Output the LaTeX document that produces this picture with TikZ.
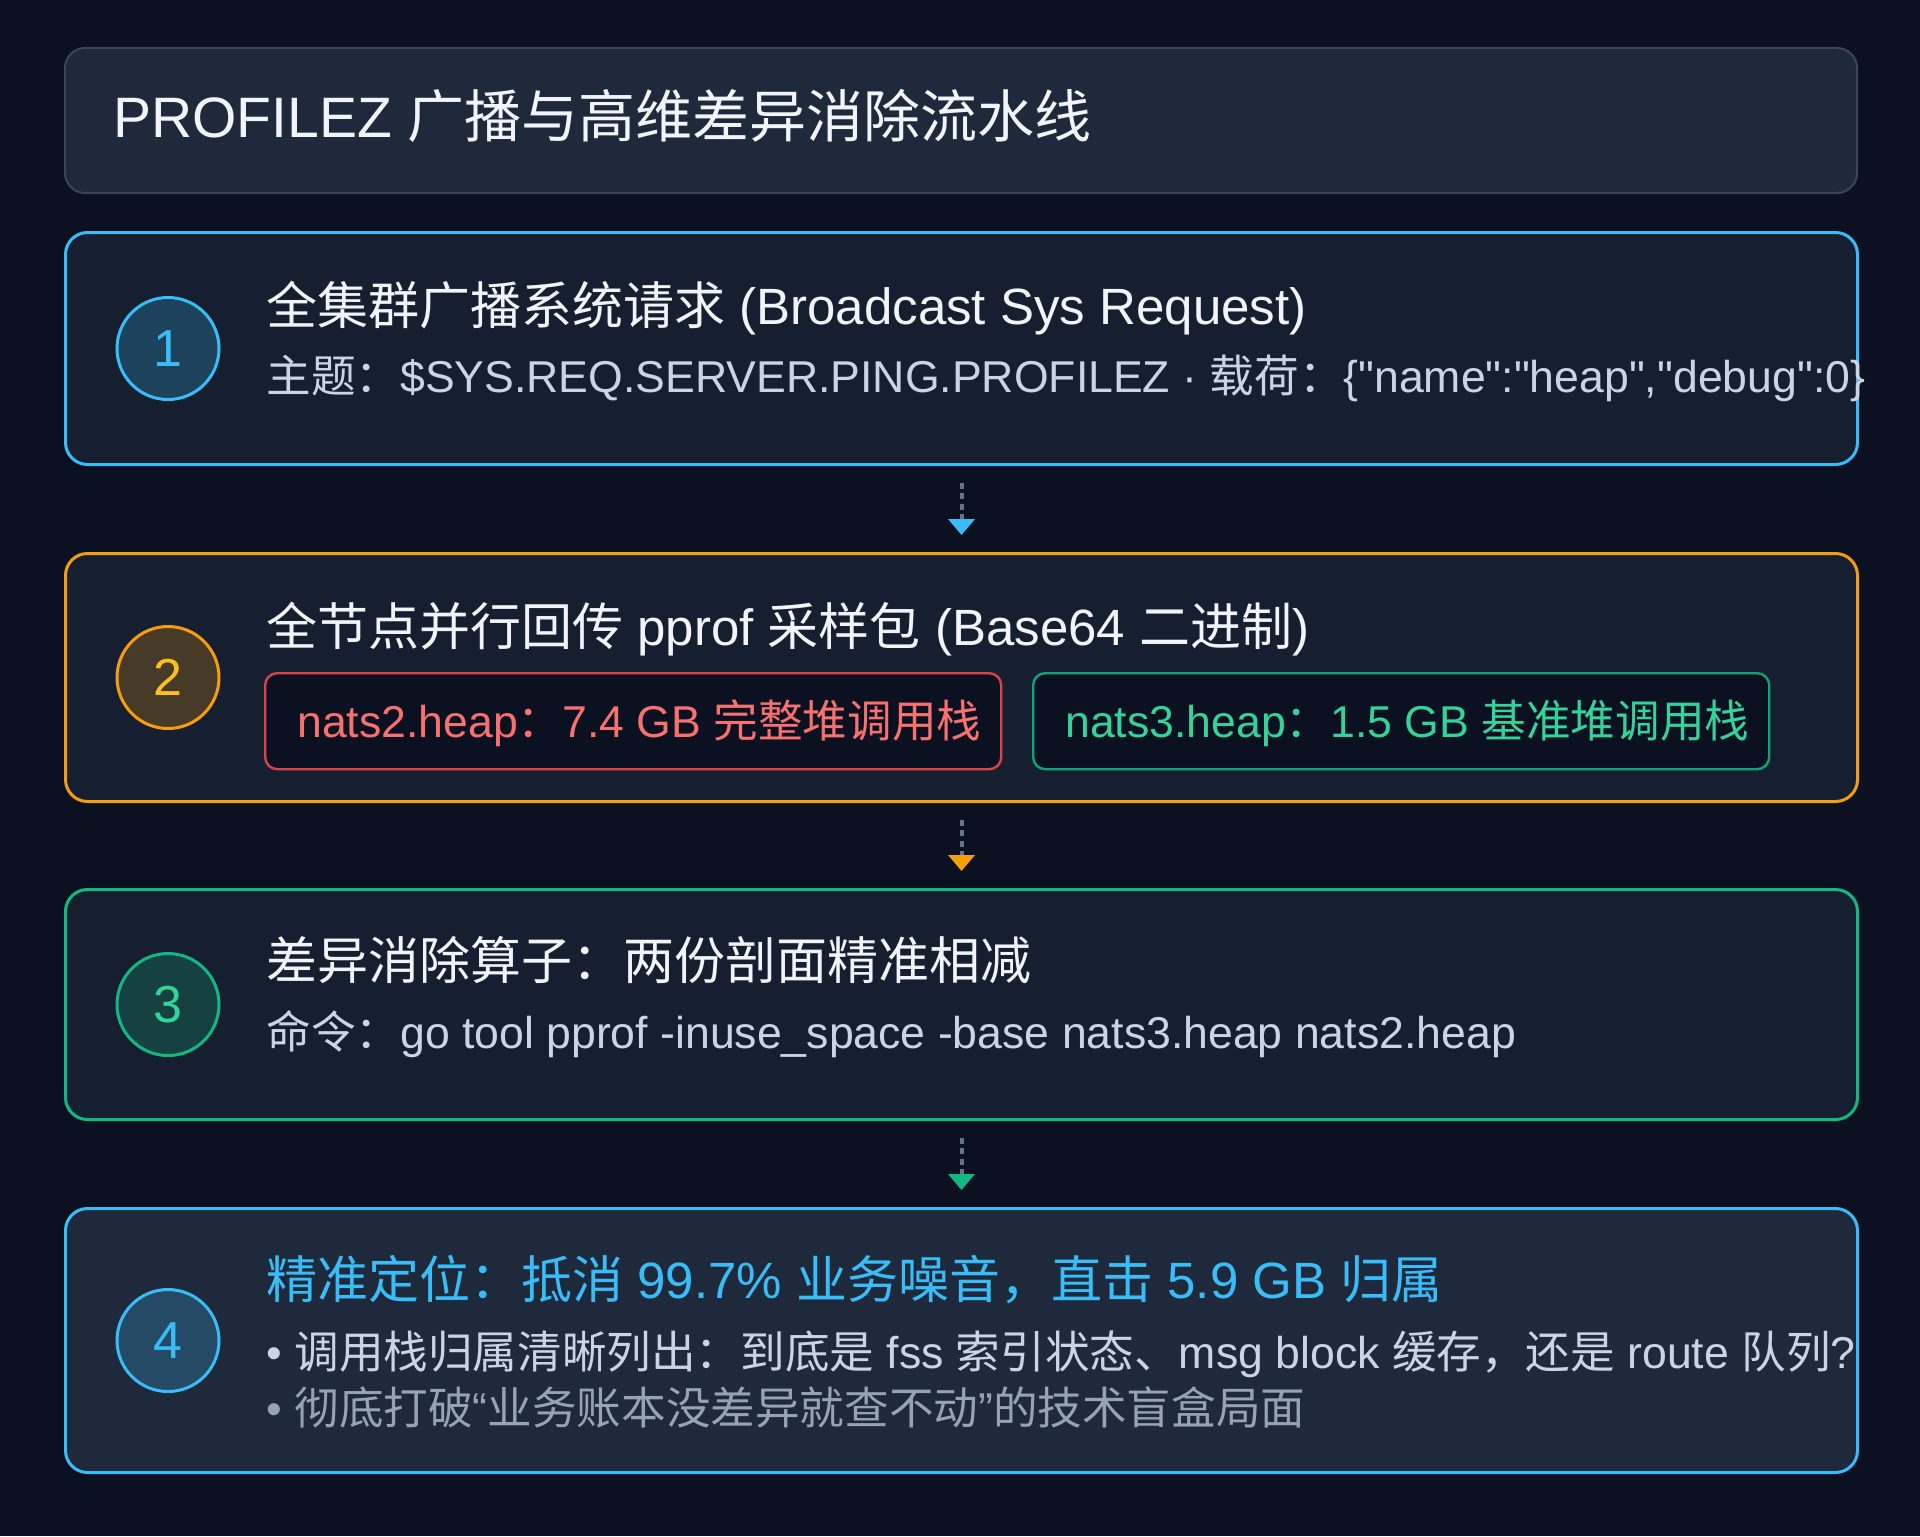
\documentclass[tikz,border=0pt]{standalone}
\usepackage{fontspec}
\setmainfont{Liberation Sans}
\newfontfamily\cjk{Noto Sans CJK SC}
\newfontfamily\lat{Liberation Sans}
\usetikzlibrary{arrows.meta}
\newcommand\zh[1]{{\cjk #1}}
\definecolor{bg}{HTML}{0B1120}
\definecolor{tfill}{HTML}{1E293B}
\definecolor{tborder}{HTML}{3A4658}
\definecolor{boxA}{HTML}{161F30}
\definecolor{boxB}{HTML}{1E293B}
\definecolor{sky}{HTML}{38BDF8}
\definecolor{amber}{HTML}{F59E0B}
\definecolor{amberT}{HTML}{FBBF24}
\definecolor{emer}{HTML}{10B981}
\definecolor{emerT}{HTML}{34D399}
\definecolor{redb}{HTML}{D9434A}
\definecolor{redt}{HTML}{F87171}
\definecolor{greenb}{HTML}{12A277}
\definecolor{chipfill}{HTML}{0B1120}
\definecolor{sub}{HTML}{CBD5E1}
\definecolor{dim}{HTML}{94A3B8}
\definecolor{stem}{HTML}{64748B}
\definecolor{wht}{HTML}{F1F5F9}
\tikzset{
  panel/.style={draw, rounded corners=11pt, line width=1.5pt, minimum width=896pt, anchor=north west, inner sep=0pt},
  badge/.style={circle, line width=1.5pt, minimum size=51pt, inner sep=0pt, font=\fontsize{26}{30}\selectfont},
  txt/.style={anchor=base west, inner sep=0pt},
  big/.style={font=\fontsize{25.5}{30}\selectfont},
  small/.style={font=\fontsize{22.3}{26}\selectfont\lat},
  chip/.style={anchor=north west, rounded corners=6pt, line width=1.2pt, fill=chipfill, inner xsep=16pt, inner ysep=0pt, minimum height=48pt, text height=19.2pt, text depth=3.1pt, font=\fontsize{22.3}{26}\selectfont},
  flow/.style={draw=stem, line width=2pt, dash pattern=on 3pt off 2.2pt}
}
\begin{document}
\begin{tikzpicture}[x=0.5pt,y=-0.5pt]
\fill[bg] (0,0) rectangle (1920,1536);
\useasboundingbox (0,0) rectangle (1920,1536);
% title
\node[panel, draw=tborder, line width=1pt, fill=tfill, rounded corners=10pt, minimum height=72.5pt] (top) at (64,47) {};
\node[txt, text=wht, font=\fontsize{28.5}{34}\selectfont] (ttl) at (113,137) {PROFILEZ \zh{广播与高维差异消除流水线}};
% panels
\node[panel, draw=sky, fill=boxA, minimum height=116pt] (b1) at (64,231) {};
\node[panel, draw=amber, fill=boxA, minimum height=124pt] (b2) at (64,552) {};
\node[panel, draw=emer, fill=boxA, minimum height=115pt] (b3) at (64,888) {};
\node[panel, draw=sky, fill=boxB, minimum height=132pt] (b4) at (64,1207) {};
% badges
\node[badge, draw=sky, fill=sky!22!boxA, text=sky] (n1) at ([xshift=52pt]b1.west) {1};
\node[badge, draw=amber, fill=amber!22!boxA, text=amberT] (n2) at ([xshift=52pt]b2.west) {2};
\node[badge, draw=emer, fill=emer!22!boxA, text=emerT] (n3) at ([xshift=52pt]b3.west) {3};
\node[badge, draw=sky, fill=sky!22!boxB, text=sky] (n4) at ([xshift=52pt]b4.west) {4};
% step 1
\node[txt, big, text=wht] (t1) at (266,324) {\zh{全集群广播系统请求} (Broadcast Sys Request)};
\node[txt, small, text=sub] (s1) at (266,392) {\zh{主题：}\$SYS.REQ.SERVER.PING.PROFILEZ · \zh{载荷：}\{"name":"heap","debug":0\}};
% step 2
\node[txt, big, text=wht] (t2) at (266,645) {\zh{全节点并行回传} pprof \zh{采样包} (Base64 \zh{二进制})};
\node[chip, draw=redb, text=redt] (c1) at (264,672) {\makebox[336pt][l]{nats2.heap\zh{：}7.4 GB \zh{完整堆调用栈}}};
\node[chip, draw=greenb, text=emerT] (c2) at (1032,672) {\makebox[336pt][l]{nats3.heap\zh{：}1.5 GB \zh{基准堆调用栈}}};
% step 3
\node[txt, big, text=wht] (t3) at (266,979) {\zh{差异消除算子：两份剖面精准相减}};
\node[txt, small, text=sub] (s3) at (266,1048) {\zh{命令：}go tool pprof -inuse\_space -base nats3.heap nats2.heap};
% step 4
\node[txt, big, text=sky] (t4) at (266,1298) {\zh{精准定位：抵消} 99.7\% \zh{业务噪音，直击} 5.9 GB \zh{归属}};
\node[txt, small, text=sub] (s4a) at (266,1368) {• \zh{调用栈归属清晰列出：到底是} fss \zh{索引状态、}msg block \zh{缓存，还是} route \zh{队列}?};
\node[txt, small, text=dim] (s4b) at (266,1424) {• \zh{彻底打破}“\zh{业务账本没差异就查不动}”\zh{的技术盲盒局面}};
% connectors
\draw[flow, -{Triangle[width=13pt,length=8pt,color=sky]}] ([yshift=-8.5pt]b1.south) -- ([yshift=8.5pt]b2.north);
\draw[flow, -{Triangle[width=13pt,length=8pt,color=amber]}] ([yshift=-8.5pt]b2.south) -- ([yshift=8.5pt]b3.north);
\draw[flow, -{Triangle[width=13pt,length=8pt,color=emer]}] ([yshift=-8.5pt]b3.south) -- ([yshift=8.5pt]b4.north);
\end{tikzpicture}
\end{document}
